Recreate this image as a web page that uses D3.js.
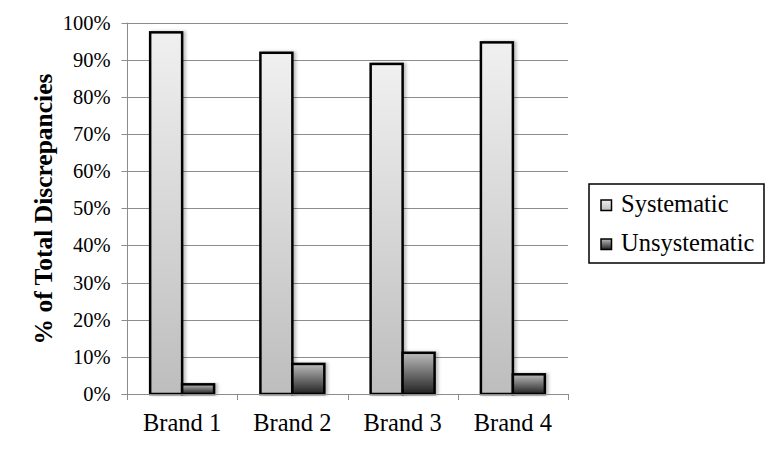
<!DOCTYPE html>
<html>
<head>
<meta charset="utf-8">
<script src="https://cdn.jsdelivr.net/npm/d3@7"></script>
<style>
  html, body { margin: 0; padding: 0; background: #fff; }
  svg { display: block; }
  text { font-family: "Liberation Serif", "Times New Roman", serif; fill: #000; }
</style>
</head>
<body>
<svg id="chart" width="777" height="450"></svg>
<script>
const categories = ["Brand 1", "Brand 2", "Brand 3", "Brand 4"];
const seriesNames = ["Systematic", "Unsystematic"];
const systematic = [0.974, 0.919, 0.889, 0.947];
const unsystematic = [0.026, 0.081, 0.111, 0.053];
const yTicks = [0, 0.1, 0.2, 0.3, 0.4, 0.5, 0.6, 0.7, 0.8, 0.9, 1.0];
const yTitle = "% of Total Discrepancies";

const svg = d3.select("#chart");
const plotLeft = 127, plotRight = 568, plotTop = 22.7, plotBottom = 394;

const defs = svg.append("defs");
const g1 = defs.append("linearGradient").attr("id", "gSys").attr("x1", 0).attr("y1", 0).attr("x2", 0).attr("y2", 1);
g1.append("stop").attr("offset", "0%").attr("stop-color", "#f0f0f0");
g1.append("stop").attr("offset", "100%").attr("stop-color", "#bdbdbd");
const g2 = defs.append("linearGradient").attr("id", "gUns").attr("x1", 0).attr("y1", 0).attr("x2", 0).attr("y2", 1);
g2.append("stop").attr("offset", "0%").attr("stop-color", "#bcbcbc");
g2.append("stop").attr("offset", "100%").attr("stop-color", "#222222");
const f = defs.append("filter").attr("id", "shadow").attr("x", "-20%").attr("y", "-20%").attr("width", "150%").attr("height", "150%");
f.append("feDropShadow").attr("dx", 2.5).attr("dy", 0).attr("stdDeviation", 1.5).attr("flood-color", "#000").attr("flood-opacity", 0.25);

const y = d3.scaleLinear().domain([0, 1]).range([plotBottom, plotTop]);
const xAxisScale = d3.scaleBand().domain(categories).range([plotLeft, plotRight]).padding(0);
const x0 = d3.scaleBand().domain(categories).range([plotLeft, plotRight]).paddingInner(0.42).paddingOuter(0.21);
const x1 = d3.scaleBand().domain(seriesNames).range([0, x0.bandwidth()]);
const fills = { "Systematic": "url(#gSys)", "Unsystematic": "url(#gUns)" };

// gridlines
svg.append("g").selectAll("line").data(yTicks.filter(d => d > 0)).join("line")
  .attr("x1", plotLeft).attr("x2", plotRight)
  .attr("y1", d => Math.round(y(d)) + 0.5).attr("y2", d => Math.round(y(d)) + 0.5)
  .attr("stroke", "#8c8c8c").attr("stroke-width", 1);

// y axis
const yAxis = d3.axisLeft(y).tickValues(yTicks).tickFormat(d3.format(".0%")).tickSize(6).tickPadding(11);
const ya = svg.append("g").attr("transform", `translate(${plotLeft + 0.5},0)`).call(yAxis);
ya.select(".domain").attr("stroke", "#8c8c8c").attr("d", `M0,${plotTop}V${plotBottom}`);
ya.selectAll(".tick line").attr("stroke", "#8c8c8c");
ya.selectAll(".tick").attr("transform", d => `translate(0,${Math.round(y(d)) + 0.5})`);
ya.selectAll(".tick text").style("font-family", '"Liberation Serif", "Times New Roman", serif').style("font-size", "20.5px").attr("fill", "#000");

// bars
const data = categories.map((c, i) => ({ cat: c, vals: [
  { name: "Systematic", v: systematic[i] },
  { name: "Unsystematic", v: unsystematic[i] }
]}));
const groups = svg.append("g").selectAll("g").data(data).join("g")
  .attr("transform", d => `translate(${x0(d.cat)},0)`);
groups.selectAll("rect").data(d => d.vals).join("rect")
  .attr("x", d => x1(d.name))
  .attr("width", x1.bandwidth())
  .attr("y", d => y(d.v))
  .attr("height", d => y(0) - y(d.v))
  .attr("fill", d => fills[d.name])
  .attr("stroke", "#000").attr("stroke-width", 2.5)
  .attr("filter", "url(#shadow)");

// x axis
svg.append("line").attr("x1", plotLeft).attr("x2", plotRight).attr("y1", plotBottom + 0.5).attr("y2", plotBottom + 0.5)
  .attr("stroke", "#8c8c8c");
const bounds = categories.map(c => xAxisScale(c)).concat([xAxisScale.range()[1]]);
svg.append("g").selectAll("line").data(bounds).join("line")
  .attr("x1", d => Math.round(d) + 0.5).attr("x2", d => Math.round(d) + 0.5)
  .attr("y1", plotBottom).attr("y2", plotBottom + 6).attr("stroke", "#8c8c8c");
svg.append("g").selectAll("text").data(categories).join("text")
  .attr("x", d => xAxisScale(d) + xAxisScale.bandwidth() / 2)
  .attr("y", 431)
  .attr("text-anchor", "middle")
  .style("font-size", "24.5px")
  .text(d => d);

// y title
svg.append("text")
  .attr("transform", "translate(52,209) rotate(-90)")
  .attr("text-anchor", "middle")
  .style("font-size", "25.5px").style("font-weight", "bold")
  .text(yTitle);

// legend
svg.append("rect").attr("x", 589).attr("y", 184).attr("width", 175).attr("height", 79)
  .attr("fill", "#fff").attr("stroke", "#000").attr("stroke-width", 1.5);
const leg = svg.append("g").selectAll("g").data(seriesNames).join("g")
  .attr("transform", (d, i) => `translate(601,${200 + i * 39})`);
leg.append("rect").attr("width", 10.5).attr("height", 10.5)
  .attr("fill", d => fills[d]).attr("stroke", "#000").attr("stroke-width", 1.5);
leg.append("text").attr("x", 20).attr("y", 12).style("font-size", "24.5px").text(d => d);
</script>
</body>
</html>
